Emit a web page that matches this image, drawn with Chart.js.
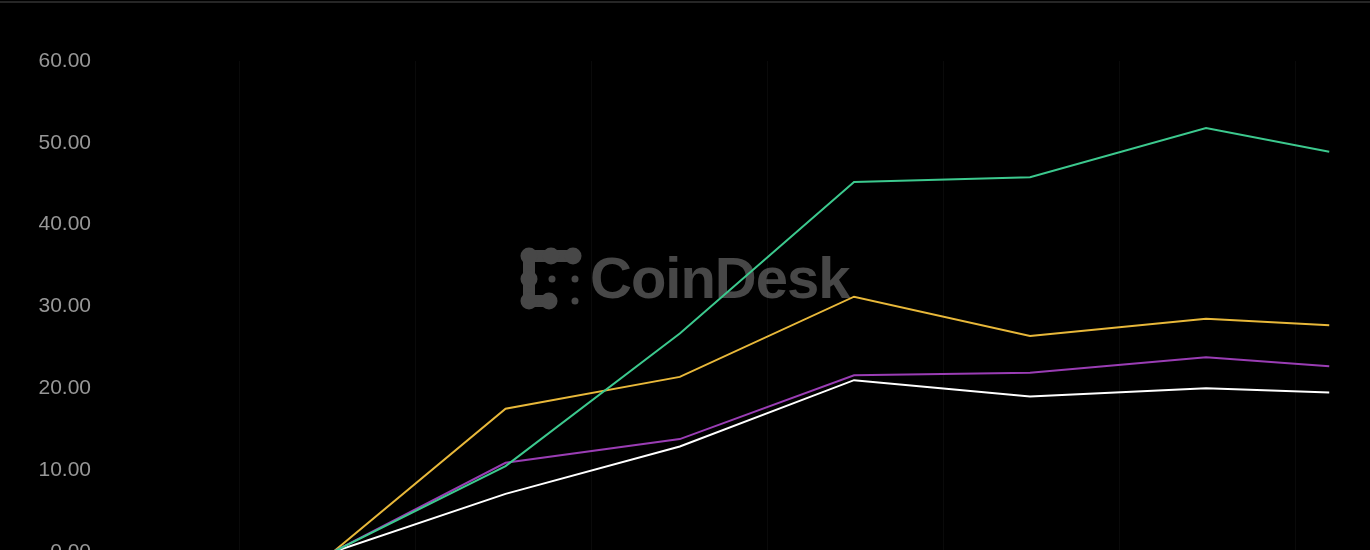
<!DOCTYPE html>
<html>
<head>
<meta charset="utf-8">
<script src="https://cdn.jsdelivr.net/npm/chart.js@4"></script>
<style>
  html, body {
    margin: 0;
    padding: 0;
    background: #000;
    overflow: hidden;
  }
  #top-rule {
    position: absolute;
    left: 0;
    top: 1px;
    width: 1370px;
    height: 2px;
    background: #262626;
    z-index: 2;
  }
  #watermark {
    position: absolute;
    left: 518px;
    top: 244px;
    height: 66px;
    display: flex;
    align-items: center;
    z-index: 0;
    color: #474747;
    font-family: 'Liberation Sans', Arial, sans-serif;
    font-weight: bold;
    font-size: 58px;
    letter-spacing: -1px;
  }
  #watermark svg {
    margin-right: 6px;
  }
  #chart-wrap {
    position: absolute;
    left: 0;
    top: 0;
    width: 1370px;
    height: 600px;
    z-index: 1;
  }
</style>
</head>
<body>
<div id="top-rule"></div>
<div id="watermark">
  <svg width="66" height="66" viewBox="0 0 66 66">
    <g fill="#474747">
      <polyline points="55,12 11,12 11,57 31,57" fill="none" stroke="#474747"
                stroke-width="12" stroke-linecap="round" stroke-linejoin="round"/>
      <circle cx="11" cy="12" r="8.5"/>
      <circle cx="33" cy="12" r="8.5"/>
      <circle cx="55" cy="12" r="8.5"/>
      <circle cx="11" cy="35" r="8.5"/>
      <circle cx="11" cy="57" r="8.5"/>
      <circle cx="31" cy="57" r="8.5"/>
      <circle cx="34" cy="35" r="3.5"/>
      <circle cx="57" cy="35" r="3.5"/>
      <circle cx="57" cy="57" r="3.5"/>
    </g>
  </svg>
  <span>CoinDesk</span>
</div>
<div id="chart-wrap"><canvas id="chart"></canvas></div>

<script>
// positions of the data points along the time axis (one grid step = 1)
var xValues = [0.53, 1.51, 2.5, 3.49, 4.49, 5.49, 6.19];

var greenSeries  = [0, 10.5, 26.7, 45.2, 45.8, 51.8, 48.9];
var yellowSeries = [0, 17.5, 21.4, 31.2, 26.4, 28.5, 27.7];
var purpleSeries = [0, 10.9, 13.8, 21.6, 21.9, 23.8, 22.7];
var whiteSeries  = [0, 7.1, 12.9, 21.0, 19.0, 20.0, 19.5];

var yTicks = [0, 10, 20, 30, 40, 50, 60];
var xGrid = [0, 1, 2, 3, 4, 5, 6];


function toPoints(values) {
  var pts = [];
  for (var i = 0; i < values.length; i++) {
    pts.push({ x: xValues[i], y: values[i] });
  }
  return pts;
}

function lineSet(values, color) {
  return {
    data: toPoints(values),
    borderColor: color,
    borderWidth: 2,
    pointRadius: 0,
    tension: 0,
    fill: false
  };
}


document.addEventListener('DOMContentLoaded', function() {
  new Chart(document.getElementById('chart'), {
    type: 'line',
    data: {
      datasets: [
        lineSet(greenSeries, '#3cc98e'),
        lineSet(purpleSeries, '#9a3db4'),
        lineSet(yellowSeries, '#e8b83a'),
        lineSet(whiteSeries, '#ffffff')
      ]
    },
    options: {
      responsive: true,
      maintainAspectRatio: false,
      animation: false,
      layout: {
        padding: { top: 61, bottom: 48, left: 0, right: 39 }
      },
      plugins: {
        legend: { display: false },
        tooltip: { enabled: false }
      },
      scales: {
        x: {
          type: 'linear',
          min: -0.8,
          max: 6.2,
          afterBuildTicks: function(scale) {
            scale.ticks = xGrid.map(function(v) { return { value: v }; });
          },
          ticks: { display: false },
          border: { display: false },
          grid: {
            color: 'rgba(255,255,255,0.04)',
            lineWidth: 1,
            drawTicks: false
          }
        },
        y: {
          min: 0,
          max: 60,
          afterBuildTicks: function(scale) {
            scale.ticks = yTicks.map(function(v) { return { value: v }; });
          },
          afterFit: function(scale) {
            scale.width = 99;  // keep the plot starting where the picture does
          },
          ticks: {
            color: '#979797',
            padding: 8,
            font: { family: 'Liberation Sans', size: 21 },
            callback: function(v) { return v.toFixed(2); }
          },
          border: { display: false },
          grid: { display: false, drawTicks: false }
        }
      }
    }
  });
});
</script>
</body>
</html>
